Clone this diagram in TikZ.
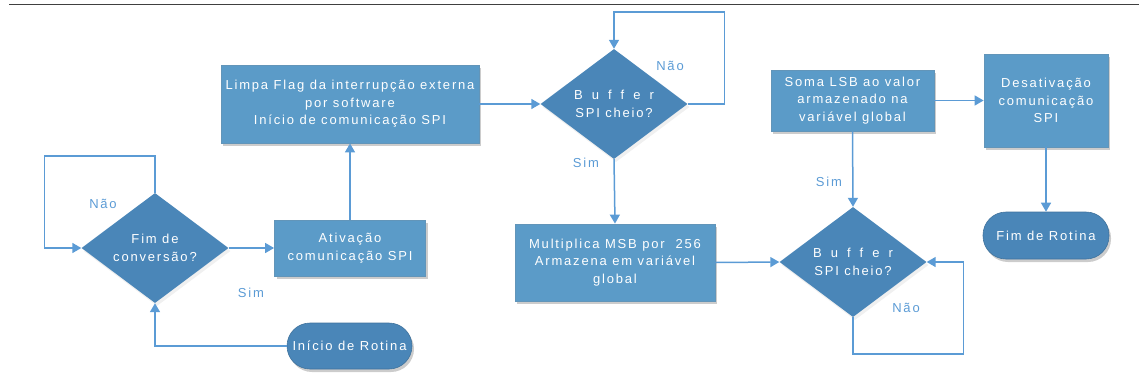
\documentclass[tikz,border=0pt]{standalone}
\usepackage{fontspec}
\setmainfont{Liberation Sans}[LetterSpace=14]
\usetikzlibrary{shapes.geometric,arrows.meta,shadows}
\definecolor{boxfill}{RGB}{91,155,200}
\definecolor{decfill}{RGB}{74,134,184}
\definecolor{linecol}{RGB}{91,155,213}
\definecolor{rulecol}{RGB}{64,64,64}
\newcommand{\spaced}[1]{{\addfontfeature{LetterSpace=70}#1}}
\begin{document}
\begin{tikzpicture}[x=1pt, y=-1pt,
    every node/.style={font=\fontsize{13}{17.6}\selectfont},
    proc/.style={rectangle, fill=boxfill, draw=boxfill!80!gray, line width=0.8pt,
        text=white, align=center, inner sep=0pt,
        drop shadow={opacity=0.4, shadow xshift=2pt, shadow yshift=-3pt}},
    decis/.style={diamond, fill=decfill, text=white, align=center, inner sep=0pt,
        minimum width=147pt, minimum height=110pt, aspect=1.34,
        drop shadow={opacity=0.12, shadow xshift=2pt, shadow yshift=-3pt}},
    term/.style={rectangle, rounded corners=23pt, fill=decfill, draw=decfill!85!black,
        line width=0.6pt, text=white, align=center, inner sep=0pt,
        drop shadow={opacity=0.4, shadow xshift=2pt, shadow yshift=-3pt}},
    arr/.style={draw=linecol, line width=1.5pt, -{Triangle[length=9pt, width=10pt]}},
    lbl/.style={text=linecol}]
    \useasboundingbox (0,0) rectangle (1139,383);
    \draw[rulecol, line width=1.5pt] (9,4.5) -- (1139,4.5);

    % inicio e primeiro teste
    \node[decis] (fim) at (155,248) {Fim de\\conversão?};
    \node[proc, minimum width=151pt, minimum height=56pt] (ativ) at (350,248) {Ativação\\comunicação SPI};
    \node[proc, minimum width=258pt, minimum height=78pt] (limpa) at (350,104)
        {Limpa Flag da interrupção externa\\por software\\Início de comunicação SPI};
    \node[term, minimum width=125pt, minimum height=46pt] (ini) at (349.5,346) {Início de Rotina};

    % leitura do MSB
    \node[decis] (buf1) at (614,104) {\spaced{Buffer}\\SPI cheio?};
    \node[proc, minimum width=200pt, minimum height=77pt] (mult) at (615,262.5)
        {Multiplica MSB por~ 256\\Armazena em variável\\global};

    % leitura do LSB
    \node[decis] (buf2) at (853,262) {\spaced{Buffer}\\SPI cheio?};
    \node[proc, minimum width=163pt, minimum height=61pt] (soma) at (852.5,100.5)
        {Soma LSB ao valor\\armazenado na\\variável global};
    \node[proc, minimum width=124pt, minimum height=93pt] (desat) at (1046,100.5)
        {Desativação\\comunicação\\SPI};
    \node[term, minimum width=126pt, minimum height=47pt] (fimrot) at (1046,235.5) {Fim de Rotina};

    % rotulos
    \node[lbl] (nao1) at (103,204) {Não};
    \node[lbl] (sim1) at (251,293) {Sim};
    \node[lbl] (nao2) at (670,66) {Não};
    \node[lbl] (sim2) at (586,163) {Sim};
    \node[lbl] (sim3) at (829,182) {Sim};
    \node[lbl] (nao3) at (906,308) {Não};

    % ligacoes
    \draw[arr] (ini.west) -| (fim.south);
    \draw[arr] (fim.north) -- ++(0,-37) -| ([xshift=-37pt]fim.west) -- (fim.west);
    \draw[arr] (fim.east) -- (ativ.west);
    \draw[arr] (ativ.north) -- (limpa.south);
    \draw[arr] (limpa.east) -- (buf1.west);
    \draw[arr] (buf1.east) -- ++(37,0) |- ([yshift=37pt]buf1.north) -- (buf1.north);
    \draw[arr] (buf1.south) -- (mult.north);
    \draw[arr] (mult.east) -- (buf2.west);
    \draw[arr] (buf2.south) -- ++(0,37) -| ([xshift=37pt]buf2.east) -- (buf2.east);
    \draw[arr] (soma.south) -- (buf2.north);
    \draw[arr] (soma.east) -- (desat.west);
    \draw[arr] (desat.south) -- (fimrot.north);
\end{tikzpicture}
\end{document}
